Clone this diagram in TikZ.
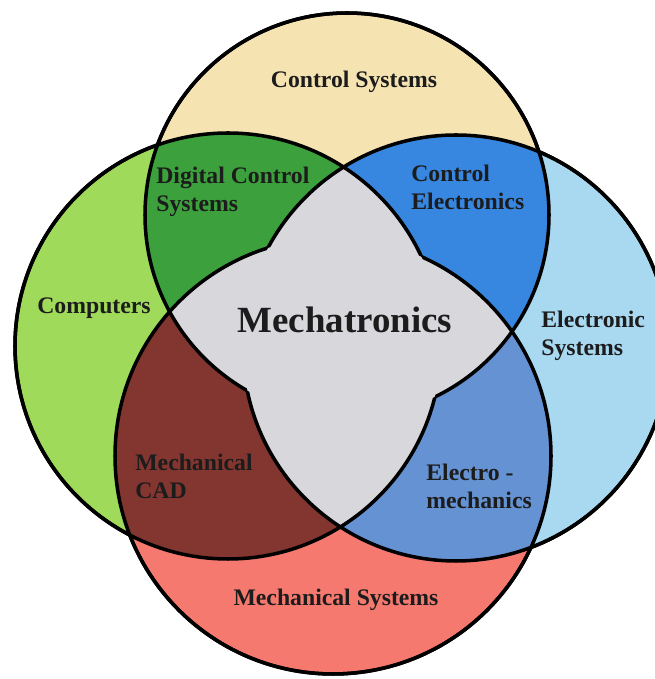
\documentclass[tikz,border=0pt]{standalone}
\usepackage{fontspec}
\setmainfont{Liberation Serif}
\usepackage{tikz}
\definecolor{mtyellow}{HTML}{F5E3B2}
\definecolor{mtlime}{HTML}{A0DA5A}
\definecolor{mtsky}{HTML}{A9D8F1}
\definecolor{mtsalmon}{HTML}{F5796F}
\definecolor{mtgreen}{HTML}{3CA13C}
\definecolor{mtblue}{HTML}{3787E1}
\definecolor{mtbrown}{HTML}{833530}
\definecolor{mtsteel}{HTML}{6592D2}
\definecolor{mtgray}{HTML}{D8D7DC}
\definecolor{mtink}{HTML}{1C1C1C}
% the four fields
\def\ctrlcirc{(347,464) circle (202)}
\def\compcirc{(228,333) circle (213)}
\def\eleccirc{(456,331) circle (213)}
\def\mechcirc{(333,223) circle (218)}
\tikzset{
    % Circle outline
    vennline/.style={
        draw=black,
        line width=2pt
    },
    % Field label
    fieldlabel/.style={
        font=\bfseries\fontsize{13.5}{16}\selectfont,
        text=mtink,
        align=left,
        inner sep=0pt
    },
    % Centre label
    corelabel/.style={
        fieldlabel,
        font=\bfseries\fontsize{21}{25}\selectfont
    }
}

\begin{document}
\begin{tikzpicture}[x=0.02cm, y=0.02cm]
    \useasboundingbox (0,0) rectangle (655,679);
    \clip (0,0) rectangle (655,679);
    \fill[white] (0,0) rectangle (655,679);

    % single fields
    \fill[mtyellow] \ctrlcirc;
    \fill[mtlime] \compcirc;
    \fill[mtsky] \eleccirc;
    \fill[mtsalmon] \mechcirc;

    % overlaps of two fields
    \begin{scope}
        \clip \ctrlcirc;
        \fill[mtgreen] \compcirc;
        \fill[mtblue] \eleccirc;
    \end{scope}
    \begin{scope}
        \clip \mechcirc;
        \fill[mtbrown] \compcirc;
        \fill[mtsteel] \eleccirc;
    \end{scope}

    % centre
    \begin{scope}
        \clip \ctrlcirc;
        \fill[mtgray] \mechcirc;
    \end{scope}
    \begin{scope}
        \clip \compcirc;
        \fill[mtgray] \eleccirc;
    \end{scope}

    % outlines, left out inside the centre
    \begin{scope}[even odd rule]
        \clip (-50,-50) rectangle (705,729) \compcirc;
        \draw[vennline] \ctrlcirc \mechcirc;
    \end{scope}
    \begin{scope}[even odd rule]
        \clip (-50,-50) rectangle (705,729) \eleccirc;
        \draw[vennline] \ctrlcirc \mechcirc;
    \end{scope}
    \begin{scope}[even odd rule]
        \clip (-50,-50) rectangle (705,729) \ctrlcirc;
        \draw[vennline] \compcirc \eleccirc;
    \end{scope}
    \begin{scope}[even odd rule]
        \clip (-50,-50) rectangle (705,729) \mechcirc;
        \draw[vennline] \compcirc \eleccirc;
    \end{scope}

    \node[fieldlabel, anchor=base] (ctrl) at (354,591) {Control Systems};
    \node[fieldlabel, anchor=base west] (comp) at (37,365) {Computers};
    \node[fieldlabel, anchor=west] (elec) at (541,343) {Electronic\\Systems};
    \node[fieldlabel, anchor=base] (mech) at (336,73) {Mechanical Systems};
    \node[fieldlabel, anchor=west] (digi) at (156,487) {Digital Control\\Systems};
    \node[fieldlabel, anchor=west] (ctel) at (411,492) {Control\\Electronics};
    \node[fieldlabel, anchor=west] (cad) at (135,203) {Mechanical\\CAD};
    \node[fieldlabel, anchor=west] (elmech) at (426,193) {Electro -\\mechanics};
    \node[corelabel, anchor=base] (core) at (345,346) {Mechatronics};
\end{tikzpicture}
\end{document}
